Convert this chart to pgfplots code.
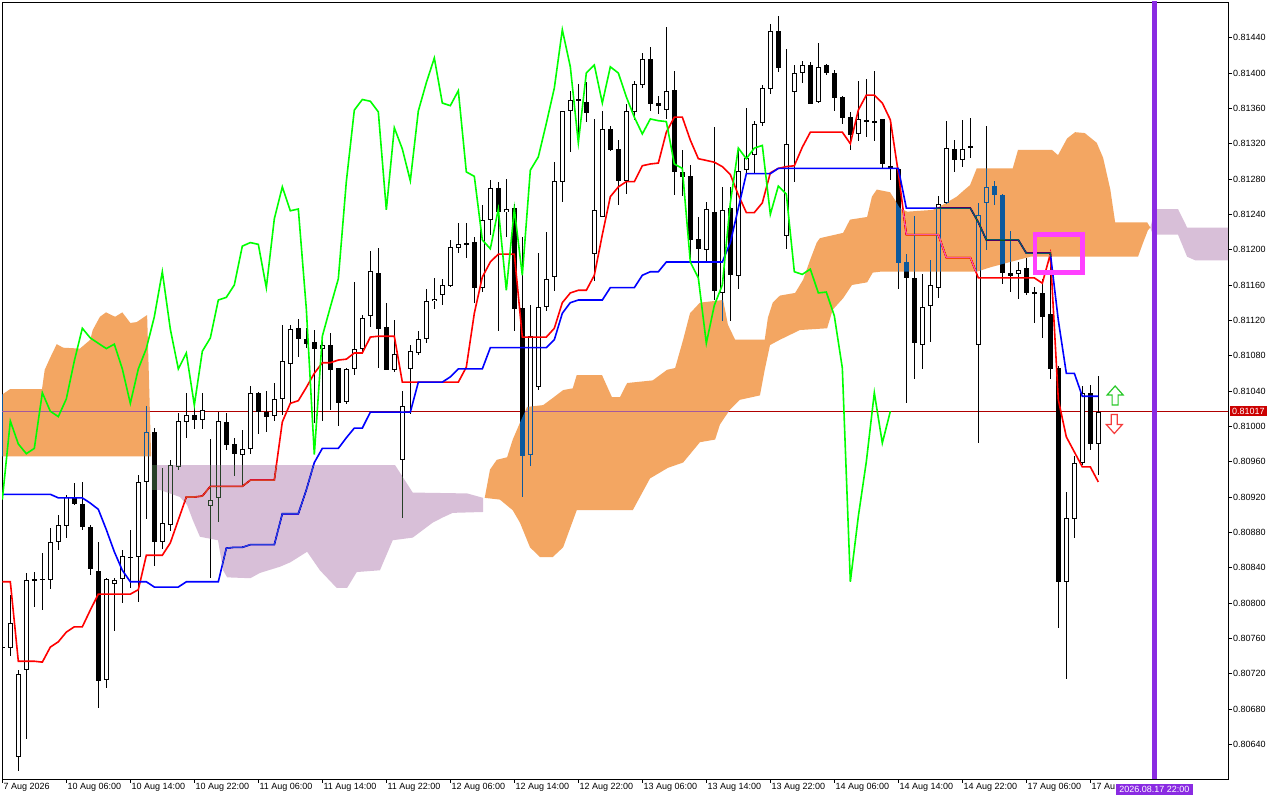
\documentclass[border=0pt]{standalone}
\usepackage{pgfplots}
\pgfplotsset{compat=1.18}
\usepackage{pgfplotstable}
\usepackage{fontspec}
\setmainfont{Liberation Sans}
\definecolor{tenkan}{RGB}{255,0,0}
\definecolor{kijun}{RGB}{0,0,255}
\definecolor{chikou}{RGB}{0,255,0}
\definecolor{orangeX}{RGB}{12,89,157}
\definecolor{lilacX}{RGB}{39,64,39}
\definecolor{bidline}{RGB}{176,0,0}
\definecolor{bidbox}{RGB}{204,0,0}
\definecolor{vline}{RGB}{138,43,226}
\definecolor{boxmag}{RGB}{255,64,255}
\newcommand\lbl{\fontsize{9}{10}\selectfont}

\pgfplotstableread{
i O H L C
0 0.80749 0.80752 0.80745 0.80750
1 0.80750 0.80811 0.80742 0.80779
2 0.80627 0.80726 0.80611 0.80721
3 0.80725 0.80835 0.80648 0.80827
4 0.80827 0.80835 0.80796 0.80826
5 0.80827 0.80857 0.80793 0.80828
6 0.80827 0.80885 0.80816 0.80870
7 0.80870 0.80901 0.80861 0.80889
8 0.80888 0.80923 0.80874 0.80921
9 0.80921 0.80936 0.80911 0.80913
10 0.80913 0.80938 0.80883 0.80886
11 0.80887 0.80888 0.80832 0.80839
12 0.80837 0.80870 0.80682 0.80712
13 0.80712 0.80829 0.80704 0.80827
14 0.80823 0.80829 0.80769 0.80827
15 0.80827 0.80860 0.80801 0.80853
16 0.80853 0.80883 0.80818 0.80852
17 0.80853 0.80945 0.80802 0.80938
18 0.80938 0.81024 0.80896 0.80994
19 0.80994 0.80999 0.80843 0.80869
20 0.80870 0.80953 0.80862 0.80892
21 0.80888 0.80963 0.80883 0.80956
22 0.80954 0.81015 0.80951 0.81006
23 0.81006 0.81038 0.80987 0.81014
24 0.81014 0.81024 0.80997 0.81008
25 0.81008 0.81038 0.80997 0.81020
26 0.80910 0.80987 0.80829 0.80917
27 0.80919 0.81017 0.80893 0.81006
28 0.81006 0.81015 0.80973 0.80980
29 0.80980 0.80987 0.80944 0.80969
30 0.80969 0.80997 0.80935 0.80975
31 0.80974 0.81047 0.80970 0.81038
32 0.81038 0.81039 0.80992 0.81017
33 0.81017 0.81041 0.80994 0.81011
34 0.81012 0.81049 0.81006 0.81031
35 0.81031 0.81116 0.81014 0.81074
36 0.81071 0.81116 0.81026 0.81111
37 0.81113 0.81122 0.81079 0.81100
38 0.81100 0.81113 0.81090 0.81094
39 0.81096 0.81110 0.81005 0.81088
40 0.81088 0.81098 0.81007 0.81093
41 0.81093 0.81106 0.81019 0.81065
42 0.81066 0.81067 0.81002 0.81026
43 0.81028 0.81066 0.81025 0.81065
44 0.81065 0.81165 0.81060 0.81088
45 0.81088 0.81126 0.81081 0.81124
46 0.81124 0.81199 0.81113 0.81175
47 0.81174 0.81203 0.81067 0.81110
48 0.81113 0.81140 0.81064 0.81065
49 0.81065 0.81122 0.81063 0.81083
50 0.80963 0.81040 0.80897 0.81024
51 0.81065 0.81093 0.81016 0.81085
52 0.81084 0.81109 0.81082 0.81100
53 0.81100 0.81156 0.81095 0.81143
54 0.81143 0.81168 0.81133 0.81146
55 0.81149 0.81168 0.81139 0.81160
56 0.81160 0.81211 0.81158 0.81204
57 0.81203 0.81231 0.81197 0.81208
58 0.81208 0.81231 0.81191 0.81206
59 0.81209 0.81214 0.81140 0.81157
60 0.81158 0.81251 0.81152 0.81235
61 0.81235 0.81280 0.81218 0.81271
62 0.81271 0.81277 0.81108 0.81244
63 0.81243 0.81280 0.81214 0.81246
64 0.81248 0.81252 0.81108 0.81133
65 0.81135 0.81214 0.80920 0.80968
66 0.80968 0.81137 0.80954 0.81102
67 0.81045 0.81197 0.81042 0.81135
68 0.81135 0.81221 0.81132 0.81167
69 0.81168 0.81300 0.81154 0.81277
70 0.81277 0.81359 0.81256 0.81358
71 0.81358 0.81380 0.81310 0.81370
72 0.81370 0.81388 0.81321 0.81368
73 0.81368 0.81390 0.81345 0.81356
74 0.81195 0.81349 0.81166 0.81245
75 0.81238 0.81358 0.81237 0.81338
76 0.81338 0.81341 0.81313 0.81314
77 0.81315 0.81324 0.81250 0.81278
78 0.81278 0.81366 0.81264 0.81357
79 0.81357 0.81392 0.81347 0.81389
80 0.81387 0.81423 0.81384 0.81417
81 0.81417 0.81430 0.81358 0.81366
82 0.81366 0.81376 0.81355 0.81363
83 0.81359 0.81452 0.81347 0.81380
84 0.81381 0.81403 0.81262 0.81288
85 0.81288 0.81314 0.81262 0.81283
86 0.81283 0.81296 0.81185 0.81211
87 0.81212 0.81237 0.81169 0.81201
88 0.81200 0.81254 0.81185 0.81246
89 0.81244 0.81339 0.81143 0.81154
90 0.81152 0.81271 0.81120 0.81246
91 0.81247 0.81271 0.81120 0.81171
92 0.81171 0.81315 0.81157 0.81290
93 0.81291 0.81362 0.81287 0.81305
94 0.81308 0.81347 0.81287 0.81343
95 0.81343 0.81387 0.81341 0.81383
96 0.81383 0.81457 0.81377 0.81449
97 0.81449 0.81465 0.81402 0.81407
98 0.81217 0.81428 0.81202 0.81321
99 0.81379 0.81410 0.81277 0.81400
100 0.81400 0.81415 0.81390 0.81409
101 0.81410 0.81414 0.81366 0.81366
102 0.81368 0.81435 0.81366 0.81407
103 0.81409 0.81411 0.81398 0.81400
104 0.81401 0.81403 0.81357 0.81373
105 0.81373 0.81374 0.81343 0.81350
106 0.81351 0.81356 0.81313 0.81331
107 0.81331 0.81391 0.81324 0.81348
108 0.81347 0.81394 0.81328 0.81346
109 0.81346 0.81403 0.81324 0.81345
110 0.81348 0.81348 0.81294 0.81297
111 0.81296 0.81348 0.81280 0.81292
112 0.81292 0.81294 0.81156 0.81186
113 0.81186 0.81197 0.81028 0.81168
114 0.81168 0.81239 0.81055 0.81094
115 0.81094 0.81174 0.81066 0.81137
116 0.81137 0.81188 0.81096 0.81160
117 0.81158 0.81262 0.81146 0.81253
118 0.81253 0.81346 0.81252 0.81315
119 0.81315 0.81325 0.81288 0.81303
120 0.81303 0.81348 0.81295 0.81315
121 0.81316 0.81350 0.81305 0.81318
122 0.81093 0.81253 0.80982 0.81240
123 0.81254 0.81340 0.81200 0.81272
124 0.81273 0.81279 0.81251 0.81263
125 0.81263 0.81264 0.81162 0.81175
126 0.81175 0.81223 0.81154 0.81172
127 0.81174 0.81186 0.81144 0.81178
128 0.81179 0.81192 0.81150 0.81151
129 0.81150 0.81158 0.81117 0.81152
130 0.81152 0.81166 0.81099 0.81125
131 0.81128 0.81196 0.81054 0.81066
132 0.81067 0.81069 0.80772 0.80824
133 0.80824 0.80927 0.80715 0.80897
134 0.80896 0.80968 0.80875 0.80960
135 0.80959 0.81047 0.80957 0.81038
136 0.81038 0.81048 0.80974 0.80981
137 0.80981 0.81058 0.80946 0.81017
}\candles

\pgfplotstableread{
i v
0 0.80917
1 0.81006
2 0.80980
3 0.80969
4 0.80975
5 0.81038
6 0.81017
7 0.81011
8 0.81031
9 0.81074
10 0.81111
11 0.81100
12 0.81094
13 0.81088
14 0.81093
15 0.81065
16 0.81026
17 0.81065
18 0.81088
19 0.81124
20 0.81175
21 0.81110
22 0.81065
23 0.81083
24 0.81024
25 0.81085
26 0.81100
27 0.81143
28 0.81146
29 0.81160
30 0.81204
31 0.81208
32 0.81206
33 0.81157
34 0.81235
35 0.81271
36 0.81244
37 0.81246
38 0.81133
39 0.80968
40 0.81102
41 0.81135
42 0.81167
43 0.81277
44 0.81358
45 0.81370
46 0.81368
47 0.81356
48 0.81245
49 0.81338
50 0.81314
51 0.81278
52 0.81357
53 0.81389
54 0.81417
55 0.81366
56 0.81363
57 0.81380
58 0.81288
59 0.81283
60 0.81211
61 0.81201
62 0.81246
63 0.81154
64 0.81246
65 0.81171
66 0.81290
67 0.81305
68 0.81343
69 0.81383
70 0.81449
71 0.81407
72 0.81321
73 0.81400
74 0.81409
75 0.81366
76 0.81407
77 0.81400
78 0.81373
79 0.81350
80 0.81331
81 0.81348
82 0.81346
83 0.81345
84 0.81297
85 0.81292
86 0.81186
87 0.81168
88 0.81094
89 0.81137
90 0.81160
91 0.81253
92 0.81315
93 0.81303
94 0.81315
95 0.81318
96 0.81240
97 0.81272
98 0.81263
99 0.81175
100 0.81172
101 0.81178
102 0.81151
103 0.81152
104 0.81125
105 0.81066
106 0.80824
107 0.80898
108 0.80960
109 0.81038
110 0.80981
111 0.81017
}\chikoutab

\begin{document}
\begin{tikzpicture}[x=1pt,y=1pt]
\fill[white] (0,0) rectangle (1280,800);
\begin{axis}[
  at={(2pt,21pt)}, anchor=south west,
  scale only axis, width=1226pt, height=777pt,
  xmin=-0.04, xmax=153.21, ymin=0.806007, ymax=0.814804,
  axis line style={black, line width=0.8pt},
  tick align=outside, major tick length=4pt,
  tick style={black, line width=0.8pt},
  xtick pos=left, ytick pos=right, yticklabel pos=right,
  xtick={0,8,...,136},
  xticklabels={7 Aug 2026, 10 Aug 06:00, 10 Aug 14:00, 10 Aug 22:00, 11 Aug 06:00, 11 Aug 14:00, 11 Aug 22:00, 12 Aug 06:00, 12 Aug 14:00, 12 Aug 22:00, 13 Aug 06:00, 13 Aug 14:00, 13 Aug 22:00, 14 Aug 06:00, 14 Aug 14:00, 14 Aug 22:00, 17 Aug 06:00, 17 Au},
  ytick={0.8064,0.8068,0.8072,0.8076,0.8080,0.8084,0.8088,0.8092,0.8096,0.8100,0.8104,0.8108,0.8112,0.8116,0.8120,0.8124,0.8128,0.8132,0.8136,0.8140,0.8144},
  scaled y ticks=false,
  /pgf/number format/.cd, fixed, fixed zerofill, precision=5, assume math mode=true,
  /pgfplots/.cd,
  tick label style={font=\lbl},
  xticklabel style={anchor=north west, inner sep=0pt, xshift=1pt},
  yticklabel style={anchor=west, inner sep=0pt, xshift=1pt},
]
% current price line
\addplot[bidline, line width=0.8pt, forget plot] coordinates {(-2,0.81017) (160,0.81017)};
% wicks
\addplot[draw=none, mark=none, forget plot,
  error bars/.cd, y dir=both, y explicit, error mark=none,
  error bar style={line width=1pt, draw=black}]
  table[x=i, y expr={(\thisrow{H}+\thisrow{L})/2}, y error expr={(\thisrow{H}-\thisrow{L})/2}]{\candles};
% bodies
\addplot[draw=none, mark=none, forget plot,
  error bars/.cd, y dir=both, y explicit, error mark=none,
  error bar style={line width=5pt, draw=black}]
  table[x=i, y expr={(\thisrow{O}+\thisrow{C})/2}, y error expr={max(abs(\thisrow{C}-\thisrow{O})/2,0.0000057)}]{\candles};
\addplot[draw=none, mark=none, forget plot,
  error bars/.cd, y dir=both, y explicit, error mark=none,
  error bar style={line width=3pt, draw=white}]
  table[x=i, y expr={(\thisrow{O}+\thisrow{C})/2}, y error expr={(\thisrow{C}>\thisrow{O})*max(abs(\thisrow{C}-\thisrow{O})/2-0.0000113,0)}]{\candles};
% tenkan
\addplot[tenkan, line width=1.6pt, forget plot] coordinates {
(0,0.80824) (1,0.80824) (2,0.80734) (4,0.80734) (5,0.80733) (6,0.80750) (7,0.80756) (8,0.80767) (9,0.80773) (10,0.80773) (11,0.80792) (12,0.80810) (16,0.80810) (17,0.80815) (18,0.80854) (20,0.80854) (21,0.80868) (22,0.80894) (23,0.80920) (24,0.80920) (25,0.80921) (26,0.80932) (30,0.80932) (31,0.80939) (34,0.80939) (35,0.81005) (36,0.81026) (37,0.81029) (38,0.81044) (39,0.81060) (40,0.81072) (41,0.81072) (42,0.81075) (43,0.81076) (44,0.81083) (45,0.81083) (46,0.81101) (47,0.81102) (49,0.81102) (50,0.81050) (57,0.81050) (58,0.81067) (59,0.81128) (60,0.81169) (61,0.81186) (62,0.81195) (64,0.81195) (65,0.81101) (68,0.81101) (69,0.81111) (70,0.81140) (71,0.81151) (72,0.81154) (73,0.81154) (74,0.81171) (75,0.81217) (76,0.81260) (77,0.81271) (78,0.81277) (79,0.81277) (80,0.81295) (81,0.81297) (82,0.81298) (83,0.81333) (84,0.81350) (85,0.81350) (86,0.81324) (87,0.81303) (88,0.81301) (89,0.81299) (90,0.81294) (91,0.81285) (92,0.81262) (93,0.81242) (94,0.81242) (95,0.81253) (96,0.81287) (97,0.81292) (98,0.81294) (99,0.81295) (100,0.81316) (101,0.81333) (105,0.81333) (106,0.81320) (107,0.81358) (108,0.81375) (109,0.81375) (110,0.81366) (111,0.81347) (112,0.81287) (113,0.81217) (117,0.81217) (118,0.81191) (121,0.81191) (122,0.81168) (129,0.81168) (130,0.81162) (131,0.81195) (132,0.81030) (133,0.80988) (134,0.80971) (135,0.80954) (136,0.80954) (137,0.80937)};
% kijun
\addplot[kijun, line width=1.6pt, forget plot] coordinates {
(0,0.80923) (6,0.80923) (7,0.80919) (10,0.80919) (11,0.80913) (12,0.80906) (13,0.80883) (14,0.80858) (15,0.80837) (16,0.80824) (18,0.80824) (19,0.80818) (22,0.80818) (23,0.80824) (27,0.80824) (28,0.80862) (29,0.80863) (30,0.80863) (31,0.80866) (34,0.80866) (35,0.80901) (37,0.80901) (38,0.80928) (39,0.80959) (40,0.80975) (42,0.80975) (43,0.80987) (44,0.80998) (45,0.80998) (46,0.81016) (51,0.81016) (52,0.81050) (55,0.81050) (56,0.81056) (57,0.81065) (60,0.81065) (61,0.81089) (68,0.81089) (69,0.81098) (70,0.81128) (71,0.81140) (72,0.81143) (75,0.81143) (76,0.81157) (79,0.81157) (80,0.81171) (81,0.81175) (82,0.81175) (83,0.81186) (90,0.81186) (91,0.81208) (92,0.81247) (93,0.81286) (96,0.81286) (97,0.81292) (112,0.81292) (113,0.81247) (121,0.81247) (122,0.81231) (123,0.81211) (127,0.81211) (128,0.81196) (131,0.81196) (132,0.81120) (133,0.81060) (134,0.81060) (135,0.81034) (137,0.81034)};
% cloud (difference blend reproduces the chart's XOR-drawn cloud)
\addplot[draw=none, fill=orangeX, blend mode=difference, forget plot] coordinates {
(-0.5,0.81033) (0.96,0.81042) (4.96,0.81042) (5.3,0.81064) (6.0,0.81078) (6.8,0.81093) (7.6,0.81089) (9.7,0.81088) (11.0,0.81098) (11.3,0.81109) (12.2,0.81124) (12.96,0.81129) (14.1,0.81124) (15.0,0.81129) (16.0,0.81117) (16.8,0.81118) (18.1,0.81126) (18.3,0.81064) (18.6,0.80966) (-0.5,0.80966)} -- cycle;
\addplot[draw=none, fill=lilacX, blend mode=difference, forget plot] coordinates {
(18.7,0.80956) (49.1,0.80956) (51.3,0.80925) (58.1,0.80924) (60.1,0.80919)
(60.1,0.80903) (56.3,0.80902) (55.1,0.80897) (53.8,0.80891) (51.3,0.80874) (48.8,0.80871) (47.2,0.80837) (44.3,0.80835) (43.1,0.80817) (41.8,0.80817) (39.7,0.80837) (38.1,0.80858) (36.0,0.80846) (34.7,0.80841) (32.2,0.80834) (31.0,0.80828) (28.1,0.80829) (27.6,0.80837) (26.96,0.80871) (24.7,0.80875) (23.8,0.80894) (23.1,0.80911) (22.2,0.80920) (19.7,0.80928) (18.7,0.80928)} -- cycle;
\addplot[draw=none, fill=orangeX, blend mode=difference, forget plot] coordinates {
(60.3,0.80919) (60.96,0.80951) (61.8,0.80962) (63.1,0.80965) (63.8,0.80985) (64.7,0.81004) (65.6,0.81022) (67.6,0.81024) (68.8,0.81032) (70.1,0.81041) (71.3,0.81043) (71.8,0.81058) (74.96,0.81058) (76.2,0.81033) (77.2,0.81033) (78.1,0.81049) (81.3,0.81052) (83.1,0.81064) (84.1,0.81066) (85.1,0.81098) (85.96,0.81128) (87.2,0.81140) (90.1,0.81143) (90.7,0.81115) (91.6,0.81098) (95.3,0.81098) (95.7,0.81123) (96.3,0.81140) (97.2,0.81148) (99.1,0.81151) (100.1,0.81166) (100.96,0.81188) (101.8,0.81208) (102.2,0.81213) (105.1,0.81219) (105.96,0.81234) (108.1,0.81237) (108.7,0.81260) (109.3,0.81268) (110.96,0.81265) (111.6,0.81256) (112.2,0.81247) (113.1,0.81243) (116.3,0.81245) (117.6,0.81251) (119.3,0.81260) (120.3,0.81268) (120.96,0.81273) (121.8,0.81292) (126.3,0.81292) (126.96,0.81313) (131.2,0.81313) (131.96,0.81307) (133.1,0.81326) (134.1,0.81333) (135.3,0.81332) (136.8,0.81321) (137.6,0.81304) (138.5,0.81268) (139.1,0.81231) (143.1,0.81231) (143.5,0.81225)
(143.2,0.81222) (142.6,0.81208) (141.96,0.81192) (128.5,0.81192) (125.96,0.81186) (123.5,0.81180) (121.8,0.81175) (109.7,0.81175) (108.8,0.81174) (108.1,0.81163) (106.2,0.81160) (105.1,0.81145) (103.8,0.81132) (103.1,0.81111) (99.7,0.81109) (97.2,0.81098) (95.96,0.81092) (95.3,0.81064) (94.7,0.81035) (92.2,0.81030) (90.96,0.81019) (89.7,0.81002) (89.1,0.80985) (87.2,0.80982) (85.1,0.80959) (83.2,0.80953) (80.96,0.80941) (78.8,0.80905) (71.8,0.80905) (70.1,0.80863) (68.8,0.80852) (67.2,0.80852) (65.96,0.80863) (64.7,0.80891) (63.8,0.80905) (62.2,0.80917)} -- cycle;
\addplot[draw=none, fill=lilacX, blend mode=difference, forget plot] coordinates {
(143.5,0.81225) (144.1,0.81246) (146.96,0.81246) (148.1,0.81225) (154,0.81225)
(154,0.81188) (149.1,0.81188) (148.1,0.81192) (146.96,0.81217) (143.8,0.81217)} -- cycle;
% chikou
\addplot[chikou, line width=1.6pt, forget plot] table[x=i, y=v]{\chikoutab};
% signal box and arrows
\draw[boxmag, line width=4.5pt] (axis cs:129.1,0.81217) rectangle (axis cs:135.0,0.81174);
\begin{scope}[shift={(axis cs:139.1,0.810349)}]
\draw[draw={rgb,255:red,40;green,200;blue,40}, fill=white, line width=1.2pt, line join=miter]
 (0pt,9.5pt) -- (8pt,0.5pt) -- (3pt,0.5pt) -- (3pt,-9.5pt) -- (-3pt,-9.5pt) -- (-3pt,0.5pt) -- (-8pt,0.5pt) -- cycle;
\end{scope}
\begin{scope}[shift={(axis cs:139.0,0.810026)}]
\draw[draw={rgb,255:red,245;green,60;blue,60}, fill=white, line width=1.2pt, line join=miter]
 (0pt,-9.5pt) -- (8pt,-0.5pt) -- (3pt,-0.5pt) -- (3pt,9.5pt) -- (-3pt,9.5pt) -- (-3pt,-0.5pt) -- (-8pt,-0.5pt) -- cycle;
\end{scope}
% vertical marker line
\draw[vline, line width=5.5pt] (axis cs:144,0.8055) -- (axis cs:144,0.8152);
\coordinate (bidR) at (axis cs:153.21,0.81017);
\coordinate (vlB) at (axis cs:144,0.806007);
\end{axis}
\node[fill=bidbox, text=white, font=\lbl, inner xsep=2pt, inner ysep=2pt, anchor=west] at ([xshift=2pt]bidR) {0.81017};
\node[fill=vline, text=white, font=\lbl, inner xsep=3.5pt, inner ysep=2pt, anchor=north] at ([yshift=-5pt]vlB) {2026.08.17 22:00};
\pgfresetboundingbox
\useasboundingbox (0,0) rectangle (1280,800);
\end{tikzpicture}
\end{document}
